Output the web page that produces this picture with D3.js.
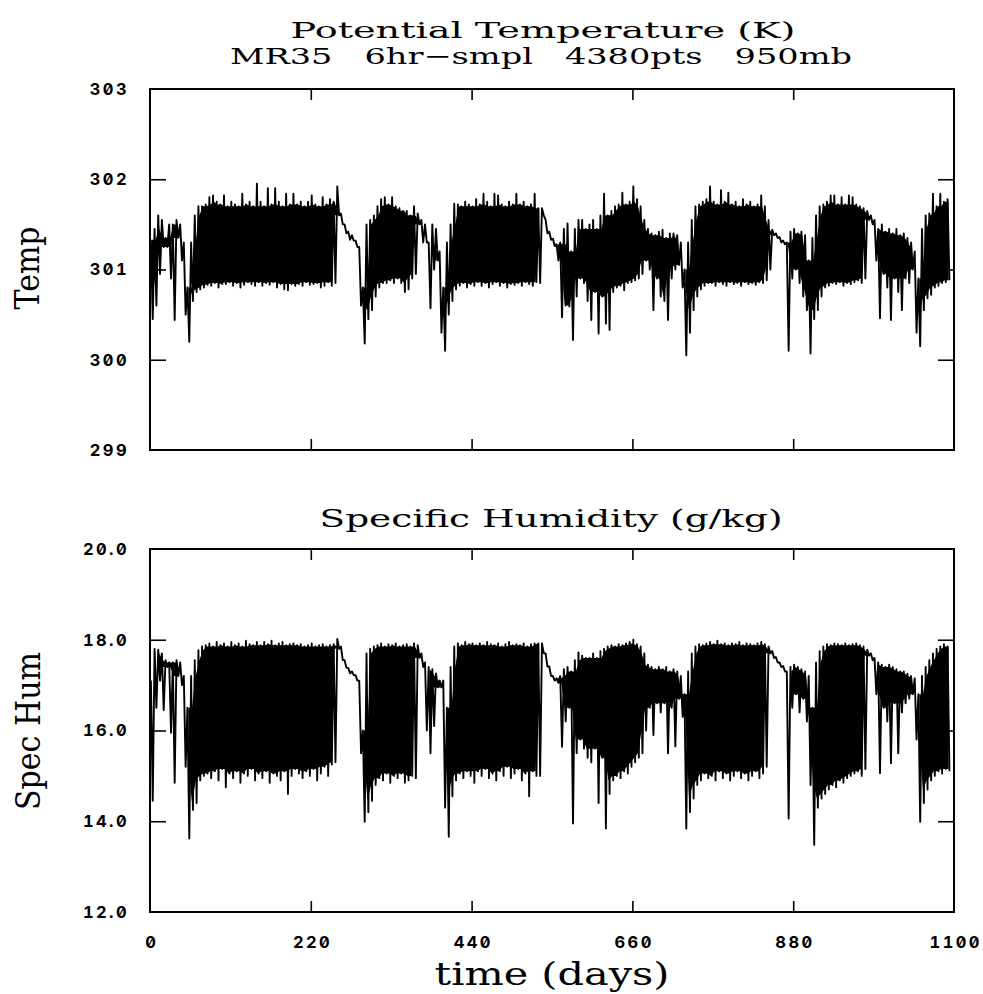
<!DOCTYPE html>
<html>
<head>
<meta charset="utf-8">
<script src="https://cdn.jsdelivr.net/npm/d3@7"></script>
<style>
  body { margin: 0; background: #fff; }
  .num { font-family: Inter, sans-serif; font-weight: 700; font-size: 16.5px; letter-spacing: 2.4px; font-feature-settings: "zero" 1, "tnum" 1; }
  .serif { font-family: "DejaVu Serif", serif; fill: #000; }
</style>
</head>
<body>
<div id="chart"></div>
<script>
var binDays = 5;

// potential temperature (K), bins 0..218
var tempHi = [
  301.33, 301.45, 301.60, 301.55, 301.35, 301.50, 301.50, 301.55, 301.50, 301.30, // 0-50
  300.80, 301.30, 301.60, 301.70, 301.70, 301.72, 301.80, 301.82, 301.75, 301.72, // 50-100
  301.82, 301.70, 301.75, 301.72, 301.70, 301.84, 301.72, 301.75, 301.70, 301.95, // 100-150
  301.75, 301.70, 301.90, 301.72, 301.90, 301.75, 301.70, 301.84, 301.72, 301.84, // 150-200
  301.72, 301.75, 301.70, 301.75, 301.82, 301.72, 301.70, 301.80, 301.72, 301.78, // 200-250
  301.75, 301.92, 301.62, 301.50, 301.42, 301.38, 301.32, 301.25, 300.80, 301.50, // 250-300
  301.55, 301.60, 301.70, 301.78, 301.80, 301.72, 301.80, 301.70, 301.68, 301.65, // 300-350
  301.65, 301.60, 301.70, 301.62, 301.55, 301.50, 301.30, 301.50, 301.45, 301.20, // 350-400
  300.80, 301.30, 301.50, 301.73, 301.72, 301.70, 301.75, 301.72, 301.70, 301.78, // 400-450
  301.72, 301.84, 301.75, 301.70, 301.84, 301.82, 301.72, 301.70, 301.75, 301.72, // 450-500
  301.84, 301.72, 301.75, 301.70, 301.72, 301.84, 301.68, 301.68, 301.55, 301.42, // 500-550
  301.34, 301.28, 301.30, 301.45, 301.51, 301.20, 301.45, 301.55, 301.55, 301.45, // 550-600
  301.50, 301.55, 301.45, 301.60, 301.84, 301.60, 301.65, 301.70, 301.72, 301.85, // 600-650
  301.72, 301.75, 301.92, 301.78, 301.70, 301.55, 301.45, 301.40, 301.38, 301.42, // 650-700
  301.44, 301.35, 301.40, 301.40, 301.38, 301.30, 301.00, 301.30, 301.55, 301.70, // 700-750
  301.72, 301.75, 301.78, 301.92, 301.75, 301.72, 301.88, 301.75, 301.85, 301.72, // 750-800
  301.75, 301.70, 301.78, 301.72, 301.75, 301.70, 301.72, 301.82, 301.70, 301.55, // 800-850
  301.44, 301.40, 301.36, 301.32, 301.30, 301.42, 301.45, 301.40, 301.42, 301.38, // 850-900
  301.10, 301.35, 301.60, 301.70, 301.72, 301.75, 301.82, 301.82, 301.72, 301.80, // 900-950
  301.72, 301.82, 301.80, 301.72, 301.70, 301.68, 301.65, 301.60, 301.55, 301.45, // 950-1000
  301.50, 301.42, 301.45, 301.40, 301.45, 301.38, 301.40, 301.35, 301.30, 301.20, // 1000-1050
  300.90, 301.45, 301.60, 301.62, 301.84, 301.70, 301.84, 301.75, 301.78          // 1050-1095
];
var tempLo = [
  300.45, 300.60, 300.95, 301.25, 301.25, 300.90, 300.44, 301.35, 301.10, 300.50,
  300.20, 300.65, 300.75, 300.78, 300.80, 300.83, 300.82, 300.85, 300.80, 300.84,
  300.84, 300.86, 300.82, 300.85, 300.80, 300.83, 300.86, 300.84, 300.82, 300.86,
  300.82, 300.85, 300.83, 300.86, 300.80, 300.84, 300.78, 300.77, 300.84, 300.82,
  300.84, 300.82, 300.86, 300.83, 300.84, 300.85, 300.80, 300.82, 300.86, 300.82,
  300.85, 301.60, 301.50, 301.40, 301.33, 301.32, 301.25, 300.60, 300.18, 300.45,
  300.55, 300.70, 300.80, 300.85, 300.85, 300.88, 300.85, 300.90, 300.85, 300.75,
  300.78, 300.90, 300.95, 301.50, 301.30, 301.30, 300.57, 301.00, 301.10, 300.30,
  300.10, 300.50, 300.65, 300.78, 300.82, 300.85, 300.80, 300.84, 300.82, 300.86,
  300.82, 300.85, 300.80, 300.84, 300.86, 300.82, 300.85, 300.80, 300.84, 300.83,
  300.85, 300.82, 300.86, 300.84, 300.82, 300.86, 300.85, 301.60, 301.40, 301.33,
  301.26, 301.10, 300.47, 300.60, 300.59, 300.22, 300.70, 300.90, 300.85, 300.65,
  300.44, 300.75, 300.29, 300.70, 300.40, 300.33, 300.75, 300.80, 300.82, 300.77,
  300.85, 300.86, 300.88, 300.90, 300.95, 301.10, 301.00, 300.55, 300.90, 300.70,
  300.65, 300.44, 300.90, 301.00, 301.05, 300.80, 300.05, 300.30, 300.55, 300.70,
  300.78, 300.82, 300.85, 300.85, 300.82, 300.86, 300.84, 300.82, 300.86, 300.84,
  300.85, 300.82, 300.86, 300.84, 300.85, 300.83, 300.86, 300.85, 300.88, 301.00,
  301.38, 301.35, 301.30, 301.28, 300.10, 300.90, 301.00, 300.85, 300.70, 300.55,
  300.07, 300.45, 300.55, 300.70, 300.80, 300.82, 300.85, 300.84, 300.86, 300.82,
  300.85, 300.84, 300.86, 300.88, 300.85, 300.90, 301.55, 301.50, 301.10, 300.46,
  300.95, 300.80, 300.44, 300.90, 300.75, 300.55, 300.90, 300.85, 301.00, 300.30,
  300.15, 300.55, 300.68, 300.72, 300.80, 300.82, 300.85, 300.86, 300.88
];

// specific humidity (g/kg), bins 0..218
var humHi = [
  17.10, 17.80, 17.78, 17.70, 17.55, 17.50, 17.50, 17.55, 17.50, 17.20, // 0-50
  16.50, 17.20, 17.55, 17.77, 17.85, 17.88, 17.92, 17.85, 17.95, 17.88, // 50-100
  17.92, 17.85, 17.95, 17.88, 17.92, 17.85, 17.98, 17.90, 17.88, 17.95, // 100-150
  17.88, 17.95, 17.90, 17.98, 17.88, 17.92, 17.95, 17.88, 17.90, 17.92, // 150-200
  17.88, 17.90, 17.85, 17.88, 17.92, 17.85, 17.88, 17.90, 17.85, 17.88, // 200-250
  17.90, 18.02, 17.85, 17.55, 17.38, 17.30, 17.22, 17.10, 16.00, 17.70, // 250-300
  17.80, 17.85, 17.88, 17.92, 17.85, 17.90, 17.88, 17.92, 17.85, 17.88, // 300-350
  17.90, 17.85, 17.92, 17.88, 17.70, 17.50, 17.40, 17.35, 17.26, 17.10, // 350-400
  17.10, 16.50, 17.40, 17.85, 17.92, 17.88, 17.95, 17.90, 17.92, 17.88, // 400-450
  17.92, 17.88, 17.95, 17.90, 17.88, 17.92, 17.85, 17.90, 17.95, 17.88, // 450-500
  17.90, 17.88, 17.92, 17.85, 17.90, 17.92, 17.92, 17.92, 17.70, 17.41, // 500-550
  17.20, 17.15, 17.20, 17.35, 17.40, 17.30, 17.55, 17.72, 17.65, 17.60, // 550-600
  17.60, 17.70, 17.60, 17.75, 17.80, 17.85, 17.88, 17.85, 17.90, 17.88, // 600-650
  17.92, 17.95, 18.00, 17.90, 17.85, 17.70, 17.45, 17.40, 17.35, 17.40, // 650-700
  17.35, 17.40, 17.30, 17.35, 17.30, 17.20, 16.80, 17.30, 17.70, 17.85, // 700-750
  17.90, 17.88, 17.92, 17.95, 17.90, 17.98, 17.90, 17.92, 17.88, 17.92, // 750-800
  17.90, 17.95, 17.88, 17.92, 17.90, 17.88, 17.92, 17.95, 17.90, 17.85, // 800-850
  17.75, 17.62, 17.50, 17.42, 17.30, 17.40, 17.45, 17.40, 17.35, 17.30, // 850-900
  17.20, 16.50, 17.50, 17.75, 17.85, 17.90, 17.88, 17.92, 17.90, 17.88, // 900-950
  17.92, 17.88, 17.90, 17.92, 17.88, 17.85, 17.78, 17.70, 17.60, 17.50, // 950-1000
  17.45, 17.40, 17.45, 17.40, 17.35, 17.30, 17.30, 17.25, 17.20, 17.15, // 1000-1050
  16.80, 17.20, 17.40, 17.55, 17.70, 17.80, 17.85, 17.90, 17.85         // 1050-1095
];
var humLo = [
  14.45, 16.50, 17.10, 16.45, 17.40, 15.95, 14.85, 17.20, 17.00, 15.20,
  13.62, 14.25, 14.40, 14.90, 15.00, 15.05, 14.95, 15.10, 14.90, 15.15,
  14.75, 15.05, 14.95, 15.10, 14.85, 15.05, 15.00, 15.15, 14.90, 15.05,
  14.95, 15.10, 14.85, 15.05, 15.00, 14.90, 15.10, 14.60, 15.00, 15.15,
  15.05, 14.95, 15.10, 15.00, 15.15, 14.90, 15.05, 15.20, 15.00, 15.25,
  15.30, 17.80, 17.55, 17.38, 17.26, 17.22, 17.10, 15.50, 13.99, 14.20,
  14.45, 14.80, 14.95, 14.90, 15.05, 14.85, 15.00, 14.95, 15.05, 14.85,
  14.90, 15.00, 14.95, 17.60, 17.40, 16.00, 15.50, 16.10, 16.95, 16.95,
  14.30, 13.66, 14.55, 14.90, 15.05, 14.95, 15.10, 15.00, 14.85, 15.10,
  15.00, 15.15, 14.95, 15.05, 14.90, 15.10, 15.00, 15.20, 14.95, 15.05,
  15.15, 14.90, 15.05, 14.55, 15.10, 15.00, 15.00, 17.70, 17.41, 17.20,
  17.10, 17.05, 15.64, 16.20, 16.50, 13.95, 15.50, 15.80, 15.60, 15.40,
  15.30, 15.60, 14.40, 15.40, 13.84, 14.60, 14.90, 15.00, 14.95, 15.10,
  15.05, 15.20, 15.30, 15.40, 15.50, 16.00, 16.50, 15.90, 16.60, 16.40,
  16.60, 15.50, 16.50, 15.65, 16.70, 16.30, 13.84, 14.20, 14.50, 14.80,
  14.90, 15.05, 14.95, 15.00, 14.90, 15.10, 14.95, 15.05, 14.90, 15.00,
  15.10, 14.95, 15.05, 14.90, 15.00, 15.10, 14.95, 15.05, 15.20, 17.70,
  17.60, 17.50, 17.40, 17.30, 14.06, 16.50, 16.80, 16.40, 16.70, 16.20,
  14.80, 13.48, 14.30, 14.50, 14.60, 14.70, 14.80, 14.75, 14.90, 14.85,
  14.95, 15.00, 15.05, 15.10, 15.00, 15.15, 17.65, 17.55, 16.80, 15.06,
  16.50, 16.20, 15.28, 16.60, 15.50, 16.40, 16.60, 16.70, 16.80, 15.80,
  13.99, 14.40, 14.70, 14.90, 15.00, 15.10, 15.05, 15.15, 15.10
];

var xTicks = [0, 220, 440, 660, 880, 1100];
var tempTicks = [299, 300, 301, 302, 303];
var humTicks = [12, 14, 16, 18, 20];

var svgWidth = 983;
var svgHeight = 994;

var svg = d3.select("#chart")
  .append("svg")
  .attr("width", svgWidth)
  .attr("height", svgHeight);

var x = d3.scaleLinear().domain([0, 1100]).range([150, 954]);
var yTemp = d3.scaleLinear().domain([299, 303]).range([450, 89]);
var yHum = d3.scaleLinear().domain([12, 20]).range([912, 549]);

// each bin -> its high then its low, so the trace zigzags like the 6-hourly record
function zigzag(hi, lo) {
  var pts = [];
  hi.forEach(function(h, i) {
    pts.push([i * binDays + 1.25, h]);
    pts.push([i * binDays + 3.75, lo[i]]);
  });
  return pts;
}

// core of the band: lowest high / highest low among a bin and its neighbours,
// so isolated dips stay as thin spikes of the trace
function core(arr, pick) {
  return arr.map(function(v, i) {
    return pick(arr.slice(Math.max(0, i - 1), i + 2));
  });
}

function drawPanel(y, hi, lo, ticks, fmt) {
  var g = svg.append("g");
  var top = y.range()[1], bottom = y.range()[0];
  var left = x.range()[0], right = x.range()[1];

  var coreHi = core(hi, d3.min);
  var coreLo = core(lo, d3.max);

  var band = d3.area()
    .defined((d, i) => d > coreLo[i])
    .x((d, i) => x(i * binDays + 2.5))
    .y0((d, i) => y(coreLo[i]))
    .y1(d => y(d));

  g.append("path")
    .datum(coreHi)
    .attr("d", band)
    .attr("fill", "#000");

  var line = d3.line()
    .x(d => x(d[0]))
    .y(d => y(d[1]));

  g.append("path")
    .datum(zigzag(hi, lo))
    .attr("d", line)
    .attr("fill", "none")
    .attr("stroke", "#000")
    .attr("stroke-width", 1.9)
    .attr("stroke-linejoin", "round");

  g.append("rect")
    .attr("x", left)
    .attr("y", top)
    .attr("width", right - left)
    .attr("height", bottom - top)
    .attr("fill", "none")
    .attr("stroke", "#000")
    .attr("stroke-width", 2);

  var innerX = xTicks.slice(1, -1);
  var innerY = ticks.slice(1, -1);

  // inward ticks on all four sides
  var tickAxes = [
    [d3.axisBottom(x).tickValues(innerX).tickSize(-11), `translate(0,${bottom})`],
    [d3.axisTop(x).tickValues(innerX).tickSize(-11), `translate(0,${top})`],
    [d3.axisLeft(y).tickValues(innerY).tickSize(-16), `translate(${left},0)`],
    [d3.axisRight(y).tickValues(innerY).tickSize(-16), `translate(${right},0)`]
  ];
  tickAxes.forEach(function(a) {
    g.append("g")
      .attr("transform", a[1])
      .call(a[0].tickFormat(""))
      .call(s => s.select(".domain").remove())
      .selectAll("line")
      .attr("stroke", "#000")
      .attr("stroke-width", 1.6);
  });

  g.append("g")
    .attr("transform", `translate(${left - 1},0)`)
    .call(d3.axisLeft(y).tickValues(ticks).tickSize(0).tickPadding(20).tickFormat(fmt))
    .call(s => s.select(".domain").remove())
    .selectAll("text")
    .attr("class", "num")
    .attr("fill", "#000")
    .attr("font-size", null)
    .attr("font-family", null);

  return g;
}

drawPanel(yTemp, tempHi, tempLo, tempTicks, d3.format("d"));
var bottomPanel = drawPanel(yHum, humHi, humLo, humTicks, d3.format(".1f"));

bottomPanel.append("g")
  .attr("transform", `translate(0,${yHum.range()[0]})`)
  .call(d3.axisBottom(x).tickValues(xTicks).tickSize(0).tickPadding(24).tickFormat(d3.format("d")))
  .call(s => s.select(".domain").remove())
  .selectAll("text")
  .attr("class", "num")
  .attr("fill", "#000")
  .attr("dx", "1.2px")
  .attr("font-size", null)
  .attr("font-family", null);

// titles and axis names
function label(txt, px, py, size, len, rot) {
  var t = svg.append("text")
    .attr("class", "serif")
    .attr("text-anchor", "middle")
    .attr("font-size", size)
    .style("white-space", "pre")
    .attr("textLength", len)
    .attr("lengthAdjust", "spacingAndGlyphs")
    .text(txt);
  if (rot) t.attr("transform", `translate(${px},${py}) rotate(-90)`);
  else t.attr("x", px).attr("y", py);
}

label("Potential Temperature (K)", 543, 38, 23, 505);
label("MR35   6hr\u2212smpl   4380pts   950mb", 541, 64, 23, 622);
label("Specific Humidity (g/kg)", 551, 527, 25, 463);
label("time (days)", 552, 985, 32, 235);
label("Temp", 39, 268, 33, 83, true);
label("Spec Hum", 40, 731, 33, 158, true);
</script>
</body>
</html>
